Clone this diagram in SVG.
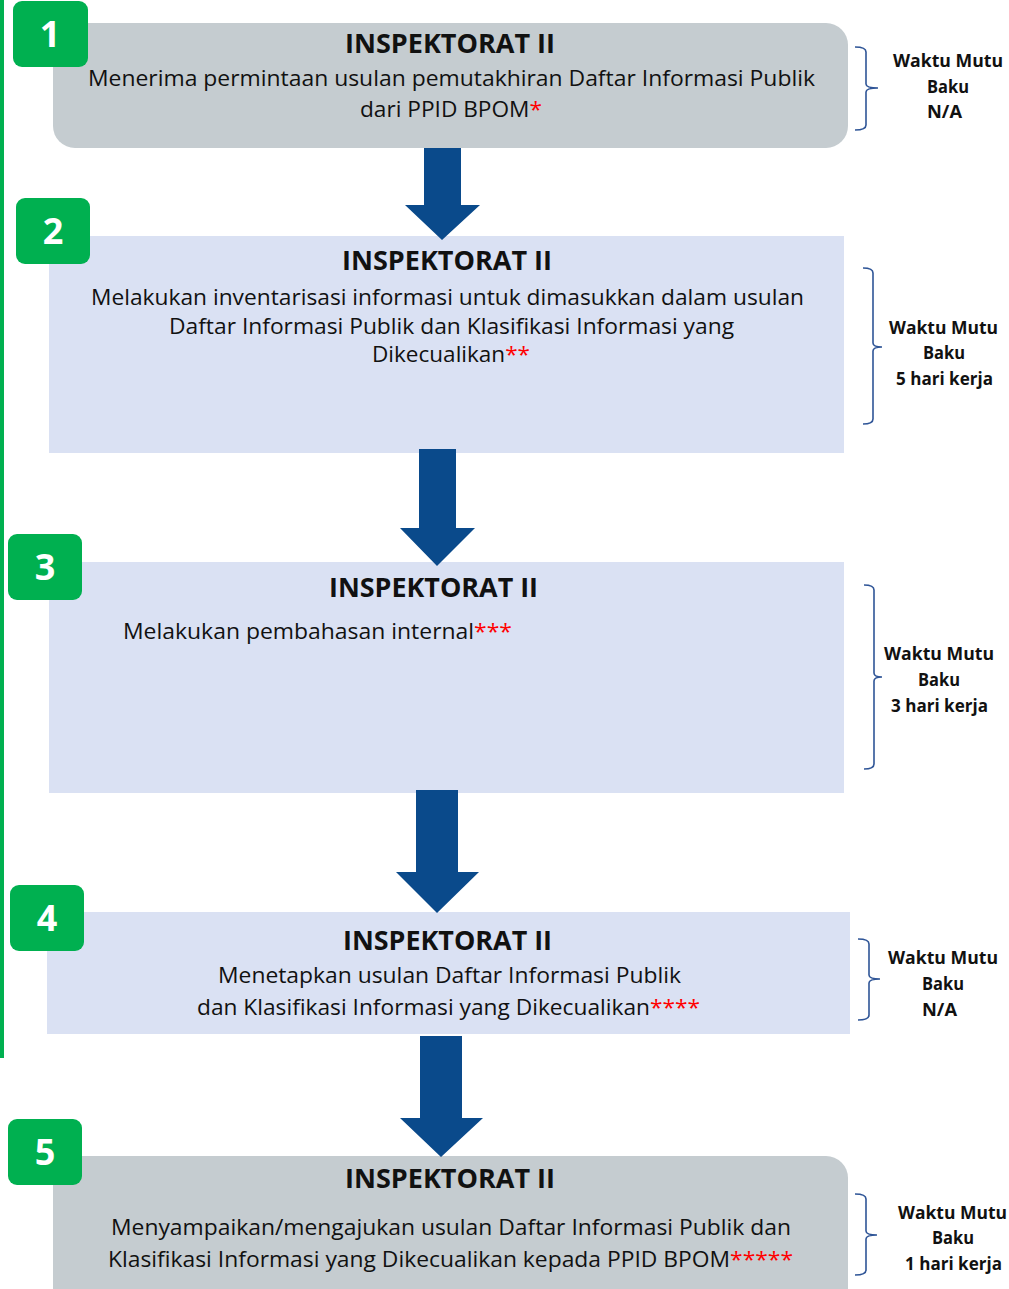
<svg xmlns="http://www.w3.org/2000/svg" width="1009" height="1289" viewBox="0 0 1009 1289">
<style>
.gray{fill:#C5CCD0}
.blue{fill:#DAE1F3}
.badge{fill:#00B050}
.num{font-family:"Open Sans","Noto Sans",sans-serif;font-weight:700;font-size:36px;fill:#fff;text-anchor:middle}
.title{font-family:"Open Sans","Noto Sans",sans-serif;font-weight:700;font-size:27.5px;fill:#111}
.body{font-family:"Open Sans","Noto Sans",sans-serif;font-size:22px;fill:#111}
.side{font-family:"Open Sans","Noto Sans",sans-serif;font-weight:700;font-size:17px;fill:#111}
.red{fill:#FF0000}
.arrow{fill:#0A4A8B}
.brace{fill:none;stroke:#2F5597;stroke-width:1.6}
</style>
<rect x="0" y="0" width="4" height="1058" fill="#00B050"/>

<g id="node1">
<rect class="gray" x="53" y="23" width="795" height="125" rx="22"/>
</g>
<g id="node2">
<rect class="blue" x="49" y="236" width="795" height="217"/>
</g>
<g id="node3">
<rect class="blue" x="49" y="562" width="795" height="231"/>
</g>
<g id="node4">
<rect class="blue" x="47" y="912" width="803" height="122"/>
</g>
<g id="node5">
<rect class="gray" x="53" y="1156" width="795" height="160" rx="22"/>
</g>

<g id="connectors">
<polygon class="arrow" points="424,148 461,148 461,205 480,205 442,240 405,205 424,205"/>
<polygon class="arrow" points="419,449 456,449 456,528 475,528 437,566 400,528 419,528"/>
<polygon class="arrow" points="416,790 458,790 458,872 479,872 437,913 396,872 416,872"/>
<polygon class="arrow" points="420,1036 462,1036 462,1118 483,1118 441,1157 400,1118 420,1118"/>
</g>

<g id="node1-content">
<rect class="badge" x="13" y="1" width="75" height="66" rx="9"/>
<text class="num" x="50" y="47">1</text>
<text class="title" x="345" y="53" textLength="210" lengthAdjust="spacingAndGlyphs">INSPEKTORAT II</text>
<text class="body" x="88" y="86" textLength="727" lengthAdjust="spacingAndGlyphs">Menerima permintaan usulan pemutakhiran Daftar Informasi Publik</text>
<text class="body" x="360" y="117" textLength="182" lengthAdjust="spacingAndGlyphs">dari PPID BPOM<tspan class="red">*</tspan></text>
<path class="brace" d="M855,47 Q866,47 866,52 L866,84 Q866,88 878,88 Q866,88 866,92 L866,125 Q866,130 855,130"/>
<text class="side" x="893" y="67" textLength="110" lengthAdjust="spacingAndGlyphs">Waktu Mutu</text>
<text class="side" x="927" y="93" textLength="42" lengthAdjust="spacingAndGlyphs">Baku</text>
<text class="side" x="927" y="118" textLength="35" lengthAdjust="spacingAndGlyphs">N/A</text>
</g>

<g id="node2-content">
<rect class="badge" x="16" y="198" width="74" height="66" rx="9"/>
<text class="num" x="53" y="244">2</text>
<text class="title" x="342" y="270" textLength="210" lengthAdjust="spacingAndGlyphs">INSPEKTORAT II</text>
<text class="body" x="91" y="305" textLength="713" lengthAdjust="spacingAndGlyphs">Melakukan inventarisasi informasi untuk dimasukkan dalam usulan</text>
<text class="body" x="169" y="334" textLength="565" lengthAdjust="spacingAndGlyphs">Daftar Informasi Publik dan Klasifikasi Informasi yang</text>
<text class="body" x="372" y="362" textLength="158" lengthAdjust="spacingAndGlyphs">Dikecualikan<tspan class="red">**</tspan></text>
<path class="brace" d="M863,268 Q873,268 873,273 L873,343 Q873,347 882,347 Q873,347 873,351 L873,419 Q873,424 863,424"/>
<text class="side" x="889" y="334" textLength="109" lengthAdjust="spacingAndGlyphs">Waktu Mutu</text>
<text class="side" x="923" y="359" textLength="42" lengthAdjust="spacingAndGlyphs">Baku</text>
<text class="side" x="896" y="385" textLength="97" lengthAdjust="spacingAndGlyphs">5 hari kerja</text>
</g>

<g id="node3-content">
<rect class="badge" x="8" y="534" width="74" height="66" rx="9"/>
<text class="num" x="45" y="580">3</text>
<text class="title" x="329" y="597" textLength="209" lengthAdjust="spacingAndGlyphs">INSPEKTORAT II</text>
<text class="body" x="123" y="639" textLength="389" lengthAdjust="spacingAndGlyphs">Melakukan pembahasan internal<tspan class="red">***</tspan></text>
<path class="brace" d="M864,585 Q874,585 874,590 L874,673 Q874,677 882,677 Q874,677 874,681 L874,764 Q874,769 864,769"/>
<text class="side" x="884" y="660" textLength="110" lengthAdjust="spacingAndGlyphs">Waktu Mutu</text>
<text class="side" x="918" y="686" textLength="42" lengthAdjust="spacingAndGlyphs">Baku</text>
<text class="side" x="891" y="712" textLength="97" lengthAdjust="spacingAndGlyphs">3 hari kerja</text>
</g>

<g id="node4-content">
<rect class="badge" x="10" y="885" width="74" height="66" rx="9"/>
<text class="num" x="47" y="931">4</text>
<text class="title" x="343" y="950" textLength="209" lengthAdjust="spacingAndGlyphs">INSPEKTORAT II</text>
<text class="body" x="218" y="983" textLength="463" lengthAdjust="spacingAndGlyphs">Menetapkan usulan Daftar Informasi Publik</text>
<text class="body" x="197" y="1015" textLength="503" lengthAdjust="spacingAndGlyphs">dan Klasifikasi Informasi yang Dikecualikan<tspan class="red">****</tspan></text>
<path class="brace" d="M858,939 Q869,939 869,944 L869,975 Q869,979 880,979 Q869,979 869,983 L869,1015 Q869,1020 858,1020"/>
<text class="side" x="888" y="964" textLength="110" lengthAdjust="spacingAndGlyphs">Waktu Mutu</text>
<text class="side" x="922" y="990" textLength="42" lengthAdjust="spacingAndGlyphs">Baku</text>
<text class="side" x="922" y="1016" textLength="35" lengthAdjust="spacingAndGlyphs">N/A</text>
</g>

<g id="node5-content">
<rect class="badge" x="8" y="1119" width="74" height="66" rx="9"/>
<text class="num" x="45" y="1165">5</text>
<text class="title" x="345" y="1188" textLength="210" lengthAdjust="spacingAndGlyphs">INSPEKTORAT II</text>
<text class="body" x="111" y="1235" textLength="680" lengthAdjust="spacingAndGlyphs">Menyampaikan/mengajukan usulan Daftar Informasi Publik dan</text>
<text class="body" x="108" y="1267" textLength="685" lengthAdjust="spacingAndGlyphs">Klasifikasi Informasi yang Dikecualikan kepada PPID BPOM<tspan class="red">*****</tspan></text>
<path class="brace" d="M855,1194 Q866,1194 866,1199 L866,1231 Q866,1235 877,1235 Q866,1235 866,1239 L866,1270 Q866,1275 855,1275"/>
<text class="side" x="898" y="1219" textLength="109" lengthAdjust="spacingAndGlyphs">Waktu Mutu</text>
<text class="side" x="932" y="1244" textLength="42" lengthAdjust="spacingAndGlyphs">Baku</text>
<text class="side" x="905" y="1270" textLength="97" lengthAdjust="spacingAndGlyphs">1 hari kerja</text>
</g>
</svg>
